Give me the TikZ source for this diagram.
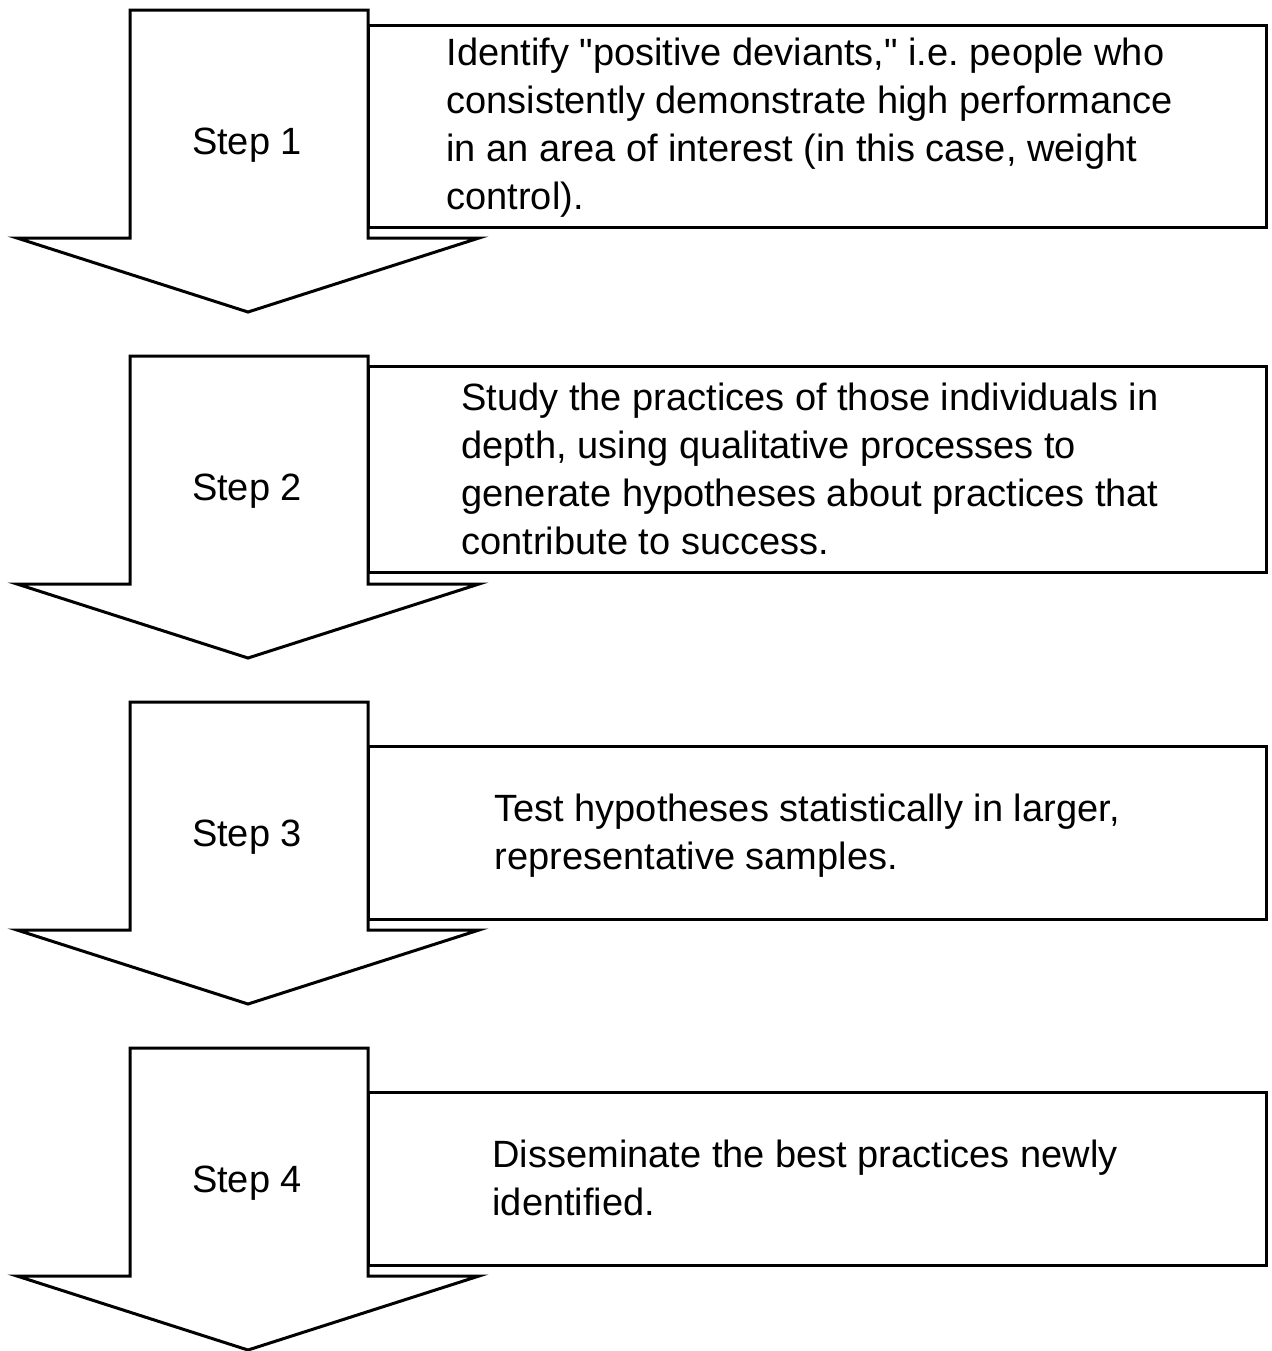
\documentclass[tikz,border=0pt]{standalone}
\usepackage{fontspec}
\setmainfont{Liberation Sans}[Ligatures=TeXOff]
\tikzset{
  desc/.style={anchor=north west,align=left,inner sep=0pt},
  steplabel/.style={inner sep=0pt}
}
\begin{document}
\frenchspacing
\begin{tikzpicture}[x=0.5pt,y=-0.5pt,line width=1.5pt,
  every node/.style={font=\fontsize{19}{24}\selectfont}]
\useasboundingbox (0,0) rectangle (1272,1351);
% the four big arrows
\foreach \i in {1,2,3,4} {
  \pgfmathsetmacro\ytop{10+346*(\i-1)}
  \draw (130,\ytop) -- (368,\ytop) -- (368,\ytop+228) -- (479,\ytop+228)
    -- (248,\ytop+302) -- (17,\ytop+228) -- (130,\ytop+228) -- cycle;
  \node[steplabel] (step\i) at (247,\ytop+135) {Step \i};
}
% the boxes beside them
\foreach \ya/\yb in {25/227, 366/572, 746/919, 1092/1265}
  \draw (368,\ya) rectangle (1266,\yb);
\node[desc] (desc1) at (445,36) {Identify "positive deviants," i.e. people who\\
  consistently demonstrate high performance\\
  in an area of interest (in this case, weight\\
  control).};
\node[desc] (desc2) at (460,381) {Study the practices of those individuals in\\
  depth, using qualitative processes to\\
  generate hypotheses about practices that\\
  contribute to success.};
\node[desc] (desc3) at (493,792) {Test hypotheses statistically in larger,\\
  representative samples.};
\node[desc] (desc4) at (491,1138) {Disseminate the best practices newly\\
  identified.};
\end{tikzpicture}
\end{document}
